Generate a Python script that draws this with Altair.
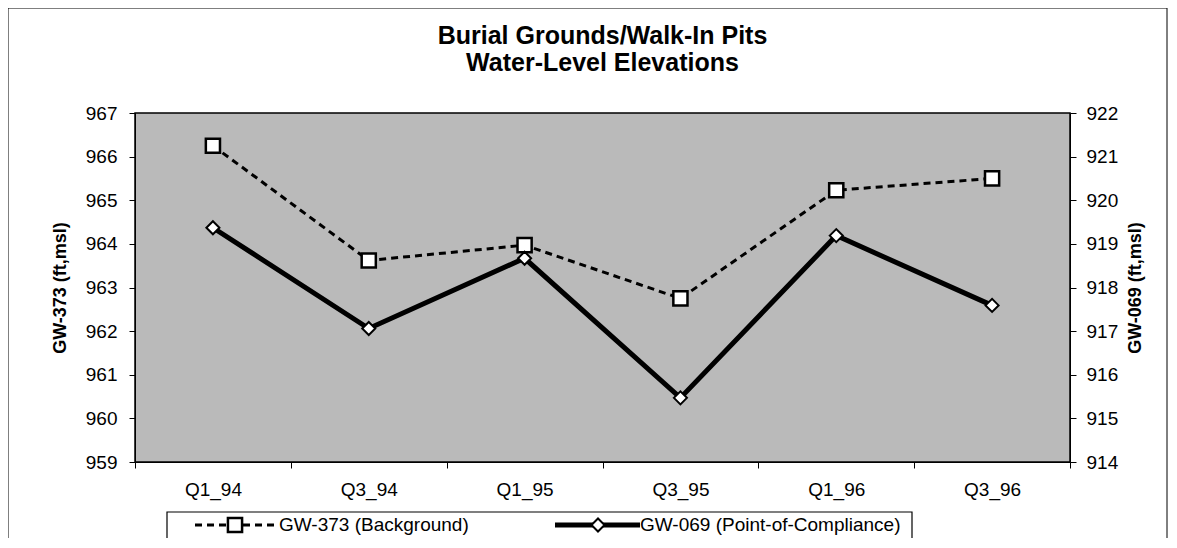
import altair as alt
import pandas as pd

quarters = ["Q1_94", "Q3_94", "Q1_95", "Q3_95", "Q1_96", "Q3_96"]
gw373 = [966.25, 963.62, 963.97, 962.75, 965.23, 965.50]
gw069 = [919.37, 917.06, 918.67, 915.47, 919.19, 917.59]
series_names = ["GW-373 (Background)", "GW-069 (Point-of-Compliance)"]
left_ticks = [959, 960, 961, 962, 963, 964, 965, 966, 967]
right_ticks = [914, 915, 916, 917, 918, 919, 920, 921, 922]
title_lines = ["Burial Grounds/Walk-In Pits", "Water-Level Elevations"]

df = pd.DataFrame({"quarter": quarters, "gw373": gw373, "gw069": gw069})
one = pd.DataFrame({"k": [0]})

W, H = 935, 349
FONT = "Liberation Sans"
FS = 19

x_enc = alt.X(
    "quarter:N", sort=quarters, bandPosition=0.5,
    scale=alt.Scale(type="band", paddingInner=0, paddingOuter=0),
    axis=alt.Axis(title=None, labelAngle=0, tickBand="extent", labelPadding=12,
                  tickSize=6, domainColor="black", tickColor="black",
                  labelFont=FONT, labelFontSize=FS, labelColor="black"),
)

def y_axis(title, vals, orient):
    kw = {}
    if orient == "right":
        kw["titleBaseline"] = "top"
    return alt.Axis(title=title, values=vals, orient=orient, grid=False,
                    tickSize=6, labelPadding=10 if orient == "right" else 12,
                    domainColor="black", tickColor="black",
                    labelFont=FONT, labelFontSize=FS, labelColor="black",
                    titleFont=FONT, titleFontSize=18, titleFontWeight="bold",
                    titleColor="black", titleAngle=270,
                    titlePadding=9 if orient == "right" else 16, **kw)

ax_left = y_axis("GW-373 (ft,msl)", left_ticks, "left")
ax_right = y_axis("GW-069 (ft,msl)", right_ticks, "right")
sc_left = alt.Scale(domain=[959, 967], nice=False, zero=False)
sc_right = alt.Scale(domain=[914, 922], nice=False, zero=False)

base = alt.Chart(df)

y373 = alt.Y("gw373:Q", scale=sc_left, axis=ax_left)
y069 = alt.Y("gw069:Q", scale=sc_right, axis=ax_right)

s1 = alt.layer(
    base.mark_line(color="black", strokeWidth=3, strokeDash=[7, 5]).encode(x=x_enc, y=y373),
    base.mark_point(shape="square", size=200, filled=True, fill="white", stroke="black",
                    strokeWidth=2.5, opacity=1).encode(x=x_enc, y=y373),
)
s2 = alt.layer(
    base.mark_line(color="black", strokeWidth=5).encode(x=x_enc, y=y069),
    base.mark_point(shape="diamond", size=170, filled=True, fill="white", stroke="black",
                    strokeWidth=2, opacity=1).encode(x=x_enc, y=y069),
)

deco = alt.Chart(one)
LY = 412
frame = deco.mark_rect(fill="white", fillOpacity=0, stroke="black", strokeWidth=1).encode(
    x=alt.value(-127), x2=alt.value(1032), y=alt.value(-105), y2=alt.value(480))
title1 = deco.mark_text(align="center", baseline="middle", font=FONT, fontSize=25,
                        fontWeight="bold", color="black").encode(
    x=alt.value(W / 2), y=alt.value(-77), text=alt.value(title_lines[0]))
title2 = deco.mark_text(align="center", baseline="middle", font=FONT, fontSize=25,
                        fontWeight="bold", color="black").encode(
    x=alt.value(W / 2), y=alt.value(-50), text=alt.value(title_lines[1]))
legend_box = deco.mark_rect(fill="white", stroke="black", strokeWidth=1.2).encode(
    x=alt.value(32), x2=alt.value(777), y=alt.value(399), y2=alt.value(426))
leg1_line = deco.mark_rule(color="black", strokeWidth=3, strokeDash=[7, 5]).encode(
    x=alt.value(60), x2=alt.value(143), y=alt.value(LY))
leg1_pt = deco.mark_point(shape="square", size=200, filled=True, fill="white", stroke="black",
                          strokeWidth=2.5, opacity=1).encode(x=alt.value(100), y=alt.value(LY))
leg1_txt = deco.mark_text(align="left", baseline="middle", font=FONT, fontSize=FS, color="black").encode(
    x=alt.value(144), y=alt.value(LY), text=alt.value(series_names[0]))
leg2_line = deco.mark_rule(color="black", strokeWidth=5).encode(
    x=alt.value(420), x2=alt.value(505), y=alt.value(LY))
leg2_pt = deco.mark_point(shape="diamond", size=170, filled=True, fill="white", stroke="black",
                          strokeWidth=2, opacity=1).encode(x=alt.value(463), y=alt.value(LY))
leg2_txt = deco.mark_text(align="left", baseline="middle", font=FONT, fontSize=FS, color="black").encode(
    x=alt.value(505), y=alt.value(LY), text=alt.value(series_names[1]))

chart = alt.layer(
    frame, title1, title2, s1, s2, legend_box, leg1_line, leg1_pt, leg1_txt,
    leg2_line, leg2_pt, leg2_txt
).resolve_scale(y="independent").properties(
    width=W, height=H,
    padding={"left": 127, "top": 105, "right": 98, "bottom": 76},
    autosize=alt.AutoSizeParams(type="none"),
    background="white",
).configure_view(fill="#bababa", stroke="black", strokeWidth=1.5)

chart.save("out.html", embed_options={"renderer": "svg", "actions": False})
